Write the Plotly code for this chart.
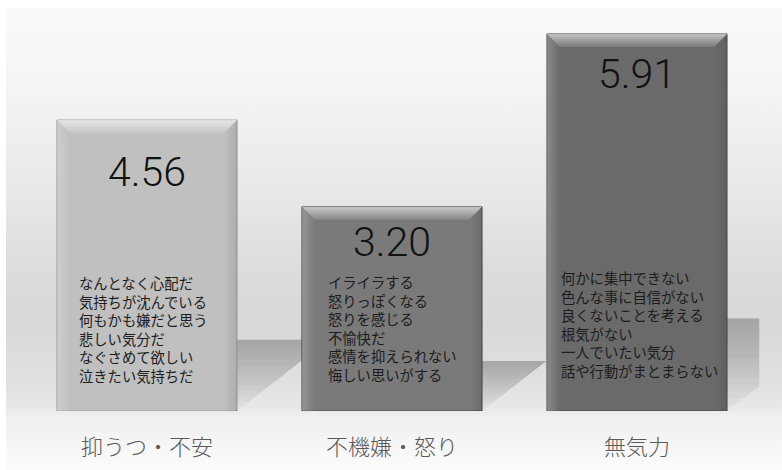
import base64
import plotly.graph_objects as go

# ---- data -------------------------------------------------------------
categories = ["抑うつ・不安", "不機嫌・怒り", "無気力"]
scores = [4.56, 3.20, 5.91]

symptoms_depression = [
    "なんとなく心配だ",
    "気持ちが沈んでいる",
    "何もかも嫌だと思う",
    "悲しい気分だ",
    "なぐさめて欲しい",
    "泣きたい気持ちだ",
]
symptoms_irritation = [
    "イライラする",
    "怒りっぽくなる",
    "怒りを感じる",
    "不愉快だ",
    "感情を抑えられない",
    "悔しい思いがする",
]
symptoms_apathy = [
    "何かに集中できない",
    "色んな事に自信がない",
    "良くないことを考える",
    "根気がない",
    "一人でいたい気分",
    "話や行動がまとまらない",
]
symptom_lists = [symptoms_depression, symptoms_irritation, symptoms_apathy]

# ---- styling ----------------------------------------------------------
W, H = 782, 470
X_LEFT_PX, X_RIGHT_PX = 24.5, 759.5
BASE_PX, TOP_PX = 411, 20
PX_PER_UNIT = 63.8
PX_PER_CAT = (X_RIGHT_PX - X_LEFT_PX) / 3
Y_MAX = (BASE_PX - TOP_PX) / PX_PER_UNIT
BAR_WIDTH = 0.735

bar_colors = ["#c0c0c0", "#7a7a7a", "#6a6a6a"]
edge_colors = ["#9a9a9a", "#474747", "#4d4d4d"]
value_offsets_px = [52, 35, 40]      # value label centre below bar top
text_insets_px = [20, 24, 12]        # symptom list indent from bar's left edge
text_lift_px = [82, 83, 87]          # symptom list centre above baseline
FONT = "Noto Sans CJK JP"
NUM_FONT = "Roboto Light, Roboto, Noto Sans CJK JP"

fig = go.Figure()

# bars
fig.add_trace(go.Bar(
    x=list(range(len(categories))),
    y=scores,
    width=BAR_WIDTH,
    marker=dict(color=bar_colors, line=dict(color=edge_colors, width=1)),
    hoverinfo="skip",
    showlegend=False,
))

# bevel highlights on each bar
bx = 13 / PX_PER_CAT
by = 13 / PX_PER_UNIT
for i, v in enumerate(scores):
    l, r = i - BAR_WIDTH / 2, i + BAR_WIDTH / 2
    # top face
    fig.add_trace(go.Scatter(
        x=[l, r, r - bx, l + bx, l], y=[v, v, v - by, v - by, v],
        mode="lines", line=dict(width=0), fill="toself",
        fillgradient=dict(type="vertical", start=v - by, stop=v,
                          colorscale=[[0, "rgba(255,255,255,0.10)"],
                                      [1, "rgba(255,255,255,0.60)"]]),
        hoverinfo="skip", showlegend=False,
    ))
    # left face
    fig.add_trace(go.Scatter(
        x=[l, l, l + bx, l + bx, l], y=[0, v, v - by, 0, 0],
        mode="lines", line=dict(width=0), fill="toself",
        fillgradient=dict(type="horizontal", start=l, stop=l + bx,
                          colorscale=[[0, "rgba(255,255,255,0.22)"],
                                      [1, "rgba(255,255,255,0.0)"]]),
        hoverinfo="skip", showlegend=False,
    ))
    # right face
    fig.add_trace(go.Scatter(
        x=[r, r, r - bx, r - bx, r], y=[0, v, v - by, 0, 0],
        mode="lines", line=dict(width=0), fill="toself",
        fillgradient=dict(type="horizontal", start=r - bx, stop=r,
                          colorscale=[[0, "rgba(0,0,0,0.0)"],
                                      [1, "rgba(0,0,0,0.10)"]]),
        hoverinfo="skip", showlegend=False,
    ))

# floor shadows cast to the right of each bar
shapes = []
slope = 0.78 * PX_PER_CAT / PX_PER_UNIT
n_layers = 14
for i, v in enumerate(scores):
    x0 = i + BAR_WIDTH / 2
    xend = min(i + 1 - BAR_WIDTH / 2, 2.5)
    h = 0.245 * v
    y_kink = slope * (xend - x0)
    for j in range(n_layers):
        ya, yb = h * j / n_layers, h
        pts = [(x0, ya), (min(x0 + ya / slope, xend), ya)]
        if ya < y_kink < yb:
            pts.append((xend, y_kink))
        pts += [(min(x0 + yb / slope, xend), yb), (x0, yb)]
        path = "M " + " L ".join(f"{px:.4f},{py:.4f}" for px, py in pts) + " Z"
        shapes.append(dict(type="path", path=path, xref="x", yref="y",
                           fillcolor="rgba(80,80,80,0.028)",
                           line=dict(width=0), layer="below"))

# annotations: score values and symptom lists
annotations = []
for i, v in enumerate(scores):
    annotations.append(dict(
        x=i, y=v, xref="x", yref="y", text=f"{v:.2f}", showarrow=False,
        xanchor="center", yanchor="middle", yshift=-value_offsets_px[i],
        font=dict(family=NUM_FONT, size=41, color="#111111", weight=300),
    ))
    annotations.append(dict(
        x=i - BAR_WIDTH / 2, y=0, xref="x", yref="y",
        text="<br>".join(symptom_lists[i]), showarrow=False,
        xanchor="left", yanchor="middle", align="left",
        xshift=text_insets_px[i], yshift=text_lift_px[i],
        font=dict(family=FONT, size=14.3, color="#1c1c1c"),
    ))

# soft vertical backdrop gradient
stops = [(8, "#fafafa"), (100, "#f3f3f3"), (200, "#e7e7e7"), (280, "#dbdbdb"),
         (330, "#d9d9d9"), (380, "#e0e0e0"), (408, "#e8e8e8"), (416, "#efefef"),
         (466, "#fbfbfb")]
bg_w, bg_h = W - 6, H - 8
stop_xml = "".join(
    f'<stop offset="{(y - 8) / bg_h:.4f}" stop-color="{c}"/>' for y, c in stops)
svg = (f'<svg xmlns="http://www.w3.org/2000/svg" width="{bg_w}" height="{bg_h}" '
       f'viewBox="0 0 {bg_w} {bg_h}" preserveAspectRatio="none">'
       f'<defs><linearGradient id="g" x1="0" y1="0" x2="0" y2="1">{stop_xml}'
       f'</linearGradient></defs>'
       f'<rect width="{bg_w}" height="{bg_h}" fill="url(#g)"/></svg>')
bg_src = "data:image/svg+xml;base64," + base64.b64encode(svg.encode()).decode()

fig.update_layout(
    width=W, height=H,
    margin=dict(l=0, r=0, t=0, b=0),
    paper_bgcolor="white",
    plot_bgcolor="rgba(0,0,0,0)",
    shapes=shapes,
    annotations=annotations,
    images=[dict(source=bg_src, xref="paper", yref="paper",
                 x=6 / W, y=1 - 8 / H, sizex=bg_w / W, sizey=bg_h / H,
                 xanchor="left", yanchor="top", sizing="stretch",
                 layer="below")],
    xaxis=dict(
        domain=[X_LEFT_PX / W, X_RIGHT_PX / W],
        range=[-0.5, 2.5],
        tickvals=list(range(len(categories))),
        ticktext=categories,
        tickfont=dict(family=FONT, size=22, color="#5a5a5a", weight=300),
        ticks="outside", ticklen=17, tickcolor="rgba(0,0,0,0)",
        showgrid=False, zeroline=False, showline=False, fixedrange=True,
    ),
    yaxis=dict(
        domain=[(H - BASE_PX) / H, (H - TOP_PX) / H],
        range=[0, Y_MAX],
        visible=False, fixedrange=True,
    ),
    bargap=1 - BAR_WIDTH,
)

fig.write_html("out.html")
